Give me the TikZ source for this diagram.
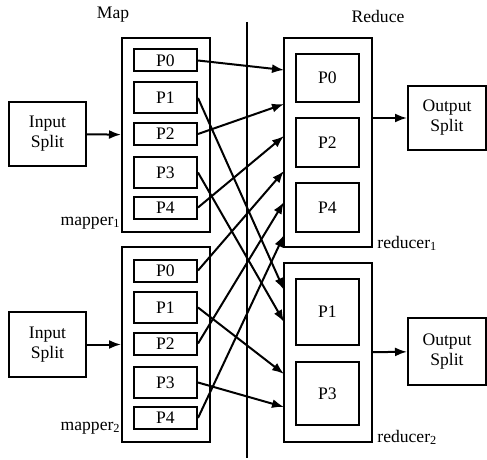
\documentclass[tikz,border=0pt]{standalone}
\usepackage{fontspec}
\setmainfont{Liberation Serif}
\usetikzlibrary{positioning,calc,arrows.meta}

\tikzset{
	box/.style={draw, line width=1pt, inner sep=0pt, align=center,
		font=\fontsize{8.8}{10}\selectfont},
	part/.style={box, minimum width=31.5pt},
	tag/.style={inner sep=0pt, font=\fontsize{8.8}{10}\selectfont},
	arrowline/.style={-{Latex[length=6pt,width=4.5pt]}, line width=1pt}
}
\newcommand{\relation}[3][]
{
	\path [draw, arrowline, #1] (#2) -- (#3);
}
\newcommand{\partbox}[5]{
	\node [part, minimum height=#5] (#1p#2) at (#3, #4) {P#2};
}

\begin{document}
\begin{tikzpicture}[x=0.5pt, y=-0.5pt]
		\useasboundingbox (0,0) rectangle (487,460);
		\node [tag] (map) at (113,15) {Map};
		\node [tag] (reduce) at (378,16) {Reduce};
		\draw [line width=1pt] (247,22) -- (247,458);
		% inputs
		\node [box, minimum width=38.5pt, minimum height=32pt] (in1) at (47.5,134) {Input\\Split};
		\node [box, minimum width=38.5pt, minimum height=32.5pt] (in2) at (47.5,344.5) {Input\\Split};
		% mappers
		\node [box, minimum width=44pt, minimum height=97pt] (m1) at (166,135) {};
		\node [box, minimum width=44pt, minimum height=97.5pt] (m2) at (166,344.5) {};
		\partbox{m1}{0}{165.5}{60.5}{11pt}
		\partbox{m1}{1}{165.5}{98}{15.5pt}
		\partbox{m1}{2}{165.5}{134}{11pt}
		\partbox{m1}{3}{165.5}{172.5}{15.5pt}
		\partbox{m1}{4}{165.5}{207.5}{11pt}
		\partbox{m2}{0}{165.5}{270.5}{11pt}
		\partbox{m2}{1}{165.5}{307.5}{15.5pt}
		\partbox{m2}{2}{165.5}{343.5}{11pt}
		\partbox{m2}{3}{165.5}{382.5}{15.5pt}
		\partbox{m2}{4}{165.5}{418}{11pt}
		\node [tag, anchor=east] (ml1) at (121,223) {mapper\textsubscript{1}};
		\node [tag, anchor=east] (ml2) at (121,428) {mapper\textsubscript{2}};
		% reducers
		\node [box, minimum width=44pt, minimum height=104.5pt] (r1) at (328,142.5) {};
		\node [box, minimum width=44pt, minimum height=89.5pt] (r2) at (328,352.5) {};
		\partbox{r1}{0}{327.5}{78}{24pt}
		\partbox{r1}{2}{327.5}{142.5}{24.5pt}
		\partbox{r1}{4}{327.5}{207.5}{24.5pt}
		\partbox{r2}{1}{327.5}{312}{33pt}
		\partbox{r2}{3}{327.5}{393.5}{31.5pt}
		\node [tag, anchor=west] (rl1) at (377,243) {reducer\textsubscript{1}};
		\node [tag, anchor=west] (rl2) at (377,437) {reducer\textsubscript{2}};
		% outputs
		\node [box, minimum width=39pt, minimum height=32pt] (out1) at (447,118) {Output\\Split};
		\node [box, minimum width=39pt, minimum height=33.5pt] (out2) at (447,351.5) {Output\\Split};
		% entry points on the reducers
		\foreach \y [count=\i] in {70,104,136,171,202,235}
			\coordinate (a\i) at (284,\y);
		\foreach \y [count=\i] in {290,322,374,407}
			\coordinate (b\i) at (284,\y);
		\relation{in1}{m1}
		\relation{in2}{m2}
		\relation{m1p0.east}{a1}
		\relation{m1p2.east}{a2}
		\relation{m1p4.east}{a3}
		\relation{m2p0.east}{a4}
		\relation{m2p2.east}{a5}
		\relation{m2p4.east}{a6}
		\relation{m1p1.east}{b1}
		\relation{m1p3.east}{b2}
		\relation{m2p1.east}{b3}
		\relation{m2p3.east}{b4}
		\relation{r1.east |- out1}{out1}
		\relation{r2}{out2}
\end{tikzpicture}
\end{document}
